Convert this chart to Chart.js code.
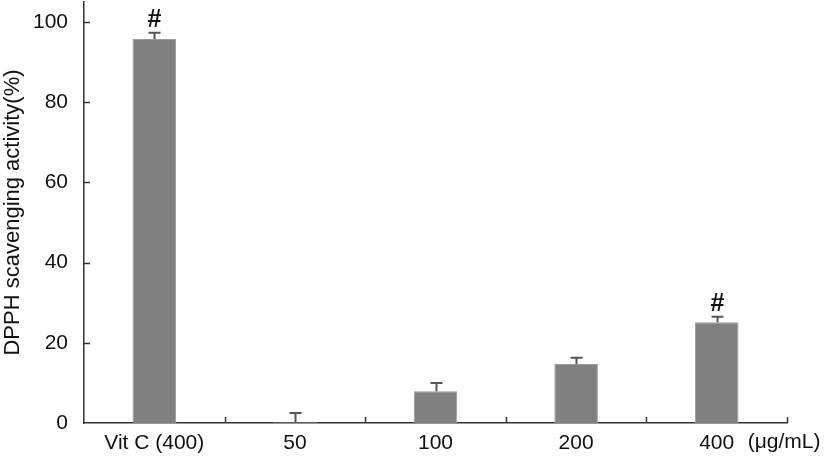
<!DOCTYPE html>
<html>
<head>
<meta charset="utf-8">
<script src="https://cdn.jsdelivr.net/npm/chart.js@4/dist/chart.umd.min.js"></script>
<style>
  html, body { margin: 0; padding: 0; background: #fff; }
  #wrap { width: 827px; height: 464px; }
</style>
</head>
<body>
<div id="wrap"><canvas id="chart" width="827" height="464"></canvas></div>
<script>
// 데이터
const categories = ["Vit C (400)", "50", "100", "200", "400"];
const activity = [95.8, 0.2, 7.9, 14.7, 25.1];
const errors = [1.5, 2.3, 2.1, 1.6, 1.4];
const marks = ["#", "", "", "", "#"];
const yTicks = [0, 20, 40, 60, 80, 100];
const unitLabel = "(μg/mL)";

const fontFamily = "'Liberation Sans', Arial, sans-serif";

// 에러바, 표시, 눈금 그리기
const extrasPlugin = {
    id: "extras",
    afterDatasetsDraw(chart) {
        const ctx = chart.ctx;
        const x = chart.scales.x;
        const y = chart.scales.y;
        const area = chart.chartArea;
        ctx.save();

        // 안쪽 눈금
        ctx.strokeStyle = "#333";
        ctx.lineWidth = 1.5;
        const half = (x.getPixelForValue(1) - x.getPixelForValue(0)) / 2;
        for (let i = 0; i < categories.length; i++) {
            const px = Math.round(x.getPixelForValue(i) + half) + 0.5;
            ctx.beginPath();
            ctx.moveTo(px, area.bottom);
            ctx.lineTo(px, area.bottom - 6);
            ctx.stroke();
        }
        yTicks.forEach(v => {
            if (v === 0) return;
            const py = Math.round(y.getPixelForValue(v)) + 0.5;
            ctx.beginPath();
            ctx.moveTo(area.left, py);
            ctx.lineTo(area.left + 6, py);
            ctx.stroke();
        });

        // 에러바
        ctx.strokeStyle = "#555";
        ctx.lineWidth = 2;
        activity.forEach((v, i) => {
            const px = Math.round(x.getPixelForValue(i)) + 0.5;
            const top = y.getPixelForValue(v + errors[i]);
            const base = y.getPixelForValue(v);
            ctx.beginPath();
            ctx.moveTo(px, base);
            ctx.lineTo(px, top);
            ctx.moveTo(px - 6, top);
            ctx.lineTo(px + 6, top);
            ctx.stroke();

            if (marks[i]) {
                ctx.fillStyle = "#111";
                ctx.font = "bold 25px " + fontFamily;
                ctx.textAlign = "center";
                ctx.textBaseline = "alphabetic";
                ctx.fillText(marks[i], px, top - 6);
            }
        });

        // 단위
        ctx.fillStyle = "#111";
        ctx.font = "21px " + fontFamily;
        ctx.textAlign = "left";
        ctx.textBaseline = "middle";
        const lastX = x.getPixelForValue(categories.length - 1);
        ctx.fillText(unitLabel, lastX + 31, area.bottom + 19);

        ctx.restore();
    }
};

new Chart(document.getElementById("chart"), {
    type: "bar",
    data: {
        labels: categories,
        datasets: [{
            data: activity,
            backgroundColor: "#808080",
            borderColor: "#9a9a9a",
            borderWidth: 1,
            barPercentage: 0.31,
            categoryPercentage: 1
        }]
    },
    options: {
        responsive: false,
        animation: false,
        layout: { padding: { top: 2, right: 40, left: 0, bottom: 0 } },
        plugins: {
            legend: { display: false },
            tooltip: { enabled: false }
        },
        scales: {
            x: {
                grid: { display: false, drawTicks: false },
                border: { color: "#333", width: 1.5 },
                ticks: {
                    color: "#111",
                    font: { family: fontFamily, size: 21 },
                    padding: 8,
                    maxRotation: 0
                },
                afterFit: (scale) => {
                    scale.height = 41;
                    scale.paddingLeft = 0;
                    scale.paddingRight = 0;
                }
            },
            y: {
                min: 0,
                max: 105,
                afterBuildTicks: (scale) => {
                    scale.ticks = yTicks.map(v => ({ value: v }));
                },
                grid: { display: false, drawTicks: false },
                border: { color: "#333", width: 1.5 },
                ticks: {
                    color: "#111",
                    font: { family: fontFamily, size: 21 },
                    padding: 16
                },
                title: {
                    display: true,
                    text: "DPPH scavenging activity(%)",
                    color: "#111",
                    font: { family: fontFamily, size: 22 },
                    padding: 0
                },
                afterFit: (scale) => {
                    scale.width = 84;
                    scale.paddingTop = 0;
                    scale.paddingBottom = 0;
                }
            }
        }
    },
    plugins: [extrasPlugin]
});
</script>
</body>
</html>
